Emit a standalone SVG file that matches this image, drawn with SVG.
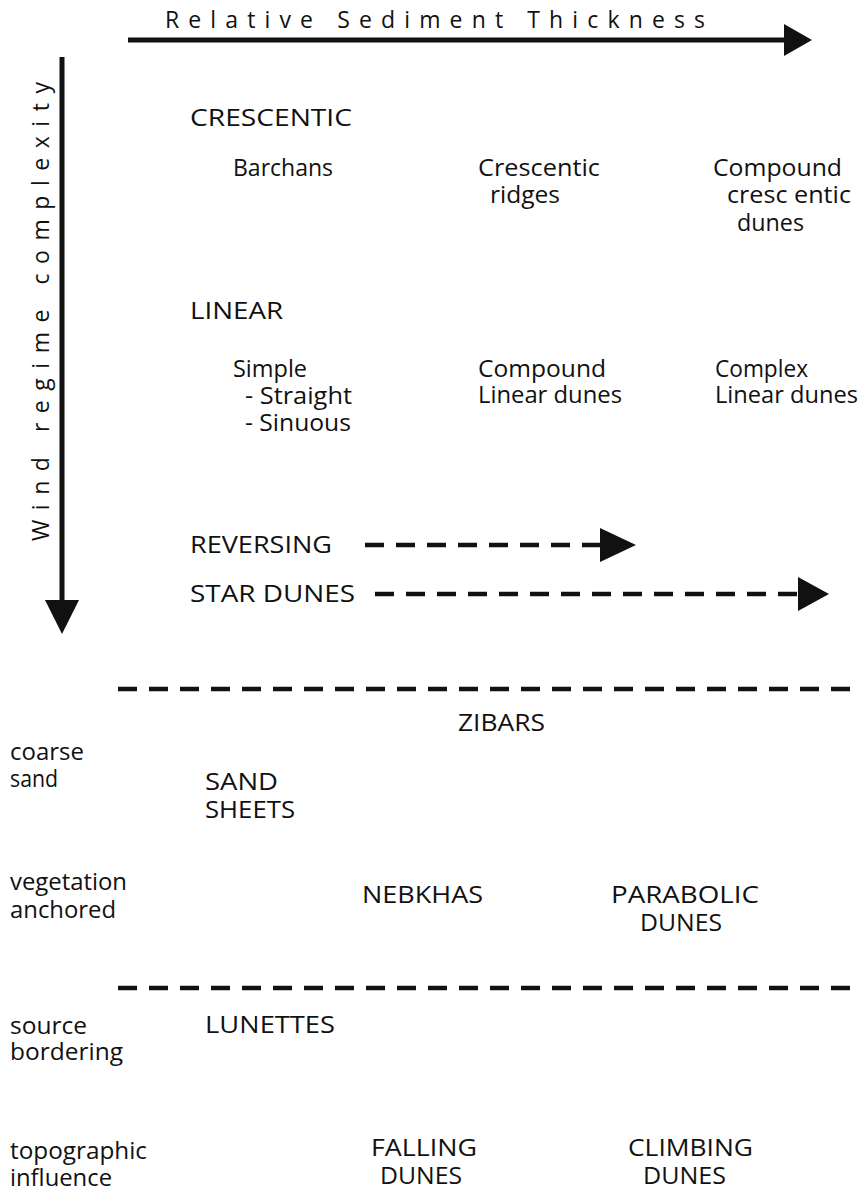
<svg xmlns="http://www.w3.org/2000/svg" width="863" height="1191" viewBox="0 0 863 1191">
<style>
text{font-family:"Open Sans","Lato",sans-serif;font-size:23px;fill:#111}
.c{font-size:24px}
.ax{stroke:#111;stroke-width:5;fill:none}
.dash{stroke:#111;stroke-width:4.5;stroke-dasharray:19 12;fill:none}
.head{fill:#111}
</style>
<rect width="863" height="1191" fill="#fff"/>
<g id="connectors">
<line class="ax" x1="128" y1="40" x2="788" y2="40"/>
<polygon class="head" points="784,24 812,40 784,56"/>
<line class="ax" x1="62" y1="57" x2="62" y2="602"/>
<polygon class="head" points="45,600 79,600 62,634"/>
<line class="dash" x1="365" y1="545" x2="603" y2="545"/>
<polygon class="head" points="600,528 636,545 600,562"/>
<line class="dash" x1="375" y1="594" x2="800" y2="594"/>
<polygon class="head" points="798,577 829,594 798,611"/>
<line class="dash" x1="118" y1="689" x2="855" y2="689"/>
<line class="dash" x1="118" y1="988" x2="855" y2="988"/>
</g>
<g id="axis-x"><text x="165" y="28" textLength="540" lengthAdjust="spacing" font-size="21">Relative Sediment Thickness</text></g>
<g id="axis-y"><text transform="translate(49,541) rotate(-90)" x="0" y="0" textLength="459" lengthAdjust="spacing" font-size="21">Wind regime complexity</text></g>
<g id="crescentic"><text class="c" x="190" y="126" textLength="162" lengthAdjust="spacingAndGlyphs">CRESCENTIC</text></g>
<g id="barchans"><text x="233" y="176" textLength="100" lengthAdjust="spacingAndGlyphs">Barchans</text></g>
<g id="crescentic-ridges"><text x="478" y="176" textLength="122" lengthAdjust="spacingAndGlyphs">Crescentic</text><text x="490" y="203" textLength="70" lengthAdjust="spacingAndGlyphs">ridges</text></g>
<g id="compound-crescentic"><text x="713" y="176" textLength="129" lengthAdjust="spacingAndGlyphs">Compound</text><text x="727" y="203" textLength="124" lengthAdjust="spacingAndGlyphs">cresc entic</text><text x="737" y="231" textLength="67" lengthAdjust="spacingAndGlyphs">dunes</text></g>
<g id="linear"><text class="c" x="190" y="319" textLength="93" lengthAdjust="spacingAndGlyphs">LINEAR</text></g>
<g id="simple"><text x="233" y="377" textLength="74" lengthAdjust="spacingAndGlyphs">Simple</text><text x="245" y="404" textLength="107" lengthAdjust="spacingAndGlyphs">- Straight</text><text x="245" y="431" textLength="106" lengthAdjust="spacingAndGlyphs">- Sinuous</text></g>
<g id="compound-linear"><text x="478" y="377" textLength="128" lengthAdjust="spacingAndGlyphs">Compound</text><text x="478" y="403" textLength="144" lengthAdjust="spacingAndGlyphs">Linear dunes</text></g>
<g id="complex-linear"><text x="715" y="377" textLength="93" lengthAdjust="spacingAndGlyphs">Complex</text><text x="715" y="403" textLength="143" lengthAdjust="spacingAndGlyphs">Linear dunes</text></g>
<g id="reversing"><text class="c" x="190" y="553" textLength="142" lengthAdjust="spacingAndGlyphs">REVERSING</text></g>
<g id="star"><text class="c" x="190" y="602" textLength="165" lengthAdjust="spacingAndGlyphs">STAR DUNES</text></g>
<g id="zibars"><text class="c" x="458" y="731" textLength="87" lengthAdjust="spacingAndGlyphs">ZIBARS</text></g>
<g id="coarse-sand"><text x="10" y="760" textLength="74" lengthAdjust="spacingAndGlyphs">coarse</text><text x="10" y="787" textLength="48" lengthAdjust="spacingAndGlyphs">sand</text></g>
<g id="sand-sheets"><text class="c" x="205" y="790" textLength="73" lengthAdjust="spacingAndGlyphs">SAND</text><text class="c" x="205" y="818" textLength="90" lengthAdjust="spacingAndGlyphs">SHEETS</text></g>
<g id="vegetation"><text x="10" y="890" textLength="117" lengthAdjust="spacingAndGlyphs">vegetation</text><text x="10" y="918" textLength="106" lengthAdjust="spacingAndGlyphs">anchored</text></g>
<g id="nebkhas"><text class="c" x="362" y="903" textLength="121" lengthAdjust="spacingAndGlyphs">NEBKHAS</text></g>
<g id="parabolic"><text class="c" x="611" y="903" textLength="148" lengthAdjust="spacingAndGlyphs">PARABOLIC</text><text class="c" x="640" y="931" textLength="82" lengthAdjust="spacingAndGlyphs">DUNES</text></g>
<g id="source"><text x="10" y="1034" textLength="77" lengthAdjust="spacingAndGlyphs">source</text><text x="10" y="1060" textLength="113" lengthAdjust="spacingAndGlyphs">bordering</text></g>
<g id="lunettes"><text class="c" x="205" y="1033" textLength="130" lengthAdjust="spacingAndGlyphs">LUNETTES</text></g>
<g id="topographic"><text x="10" y="1159" textLength="137" lengthAdjust="spacingAndGlyphs">topographic</text><text x="10" y="1186" textLength="102" lengthAdjust="spacingAndGlyphs">influence</text></g>
<g id="falling"><text class="c" x="371" y="1156" textLength="106" lengthAdjust="spacingAndGlyphs">FALLING</text><text class="c" x="380" y="1184" textLength="82" lengthAdjust="spacingAndGlyphs">DUNES</text></g>
<g id="climbing"><text class="c" x="628" y="1156" textLength="125" lengthAdjust="spacingAndGlyphs">CLIMBING</text><text class="c" x="643" y="1184" textLength="83" lengthAdjust="spacingAndGlyphs">DUNES</text></g>
</svg>
